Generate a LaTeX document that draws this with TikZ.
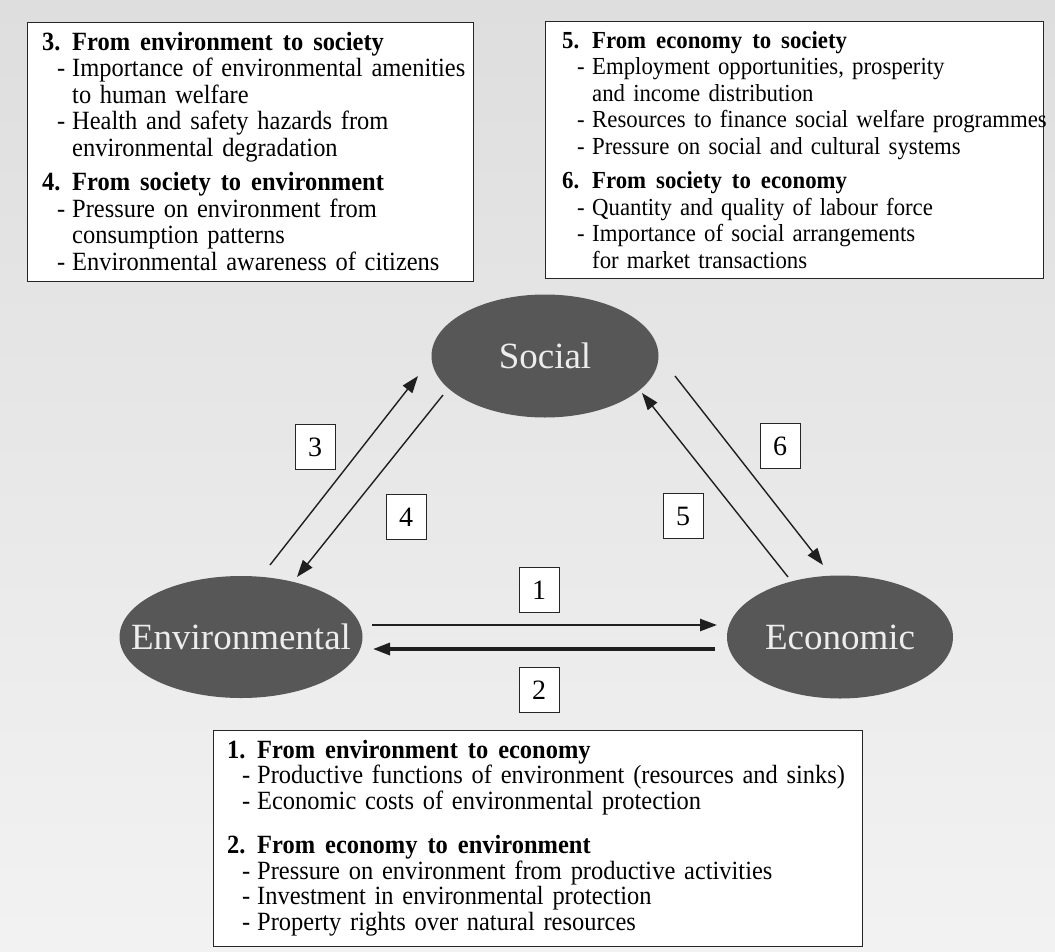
\documentclass[tikz,border=0pt]{standalone}
\usepackage{fontspec}
\setmainfont{Liberation Serif}[FakeStretch=0.93]
\newfontfamily\labelfont{Liberation Serif}
\usetikzlibrary{arrows.meta,shapes.geometric}

\newcommand{\boxhead}[2]{\mbox{\bfseries\makebox[30pt][l]{#1}\spaceskip=10pt #2}}
\newcommand{\boxitem}[1]{\mbox{\hspace*{15pt}\makebox[15pt][l]{-}#1}}
\newcommand{\boxcont}[1]{\mbox{\hspace*{30pt}#1}}

\begin{document}
\begin{tikzpicture}[x=1pt,y=-1pt,
  sector/.style={ellipse,fill=black!66,text=white!93!black,inner sep=0pt,
    font=\labelfont\fontsize{37}{37}\selectfont},
  tag/.style={draw=black!85,fill=white,minimum width=40pt,minimum height=45pt,
    inner sep=0pt,font=\labelfont\fontsize{28}{28}\selectfont},
  infobox/.style={draw=black!85,fill=white,anchor=north west,align=left,
    inner ysep=10pt,font=\fontsize{26.3}{26.5}\selectfont},
  flow/.style={-{Triangle[length=17pt,width=12pt]},line width=1.4pt,draw=black!88}]
\useasboundingbox (0,0) rectangle (1055,951);
\shade[top color=black!13,bottom color=black!5] (0,0) rectangle (1055,951);

% the three sectors
\node[sector,minimum width=243pt,minimum height=122pt] (env) at (241,637) {\makebox[0pt]{Environmental}};
\node[sector,minimum width=227pt,minimum height=123pt] (soc) at (545,356) {\makebox[0pt]{Social}};
\node[sector,minimum width=226pt,minimum height=123pt] (eco) at (840,637) {\makebox[0pt]{Economic}};

% flows
\draw[flow,line width=2.4pt] ([shift={(131,-12)}]env.center) -- ([shift={(-123,-12)}]eco.center);
\draw[flow,line width=3.2pt] ([shift={(-125,12)}]eco.center) -- ([shift={(132,12)}]env.center);
\draw[flow] ([shift={(29,-72)}]env.center) -- ([shift={(-127,20)}]soc.center);
\draw[flow] ([shift={(-102,39)}]soc.center) -- ([shift={(56,-60)}]env.center);
\draw[flow] ([shift={(-52,-60)}]eco.center) -- ([shift={(97,37)}]soc.center);
\draw[flow] ([shift={(130,20)}]soc.center) -- ([shift={(-17,-72)}]eco.center);

% numbers
\node[tag] (t1) at (539,590) {1};
\node[tag] (t2) at (539,690) {2};
\node[tag] (t3) at (315,447) {3};
\node[tag] (t4) at (406,517) {4};
\node[tag] (t5) at (683,516) {5};
\node[tag] (t6) at (780,446) {6};

% text boxes
\node[infobox,inner xsep=15pt,text width=416pt] (box34) at (27,22) {%
\boxhead{3.}{From environment to society}\\
\boxitem{Importance of environmental amenities}\\
\boxcont{to human welfare}\\
\boxitem{Health and safety hazards from}\\
\boxcont{environmental degradation}\\[8pt]
\boxhead{4.}{From society to environment}\\
\boxitem{Pressure on environment from}\\
\boxcont{consumption patterns}\\
\boxitem{Environmental awareness of citizens}};
\node[infobox,inner xsep=17pt,text width=464pt,font=\fontsize{24.5}{26.5}\selectfont] (box56) at (545,21) {%
\boxhead{5.}{From economy to society}\\
\boxitem{Employment opportunities, prosperity}\\
\boxcont{and income distribution}\\
\boxitem{Resources to finance social welfare programmes}\\
\boxitem{Pressure on social and cultural systems}\\[8pt]
\boxhead{6.}{From society to economy}\\
\boxitem{Quantity and quality of labour force}\\
\boxitem{Importance of social arrangements}\\
\boxcont{for market transactions}};
\node[infobox,inner xsep=14pt,text width=621pt,font=\fontsize{26.3}{25.5}\selectfont] (box12) at (213,730) {%
\boxhead{1.}{From environment to economy}\\
\boxitem{Productive functions of environment (resources and sinks)}\\
\boxitem{Economic costs of environmental protection}\\[19pt]
\boxhead{2.}{From economy to environment}\\
\boxitem{Pressure on environment from productive activities}\\
\boxitem{Investment in environmental protection}\\
\boxitem{Property rights over natural resources}};
\end{tikzpicture}
\end{document}
